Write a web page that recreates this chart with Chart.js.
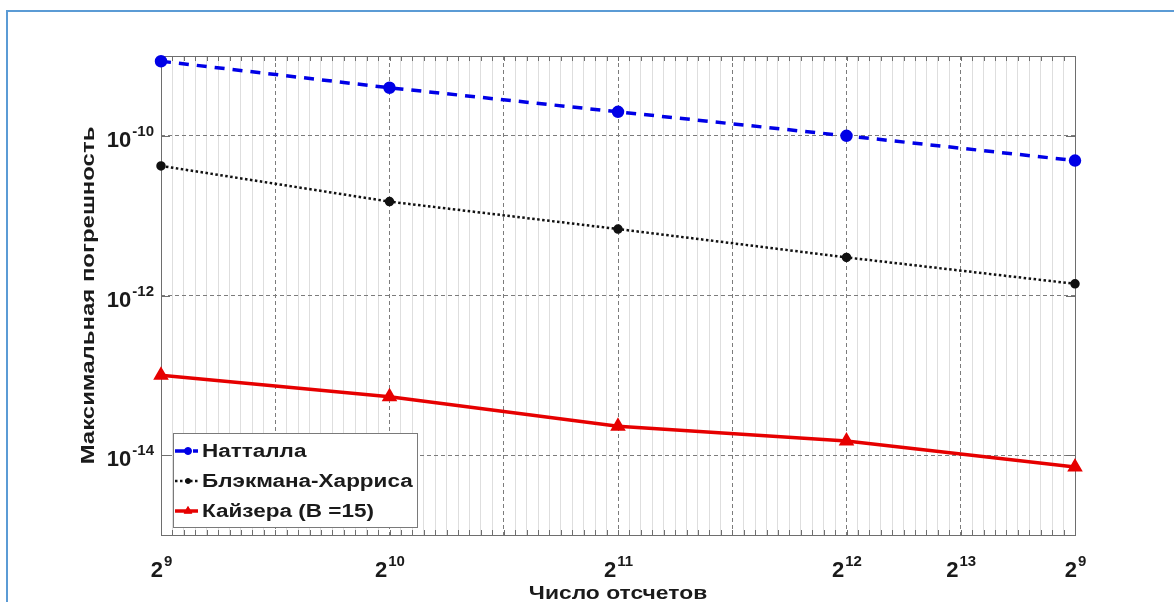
<!DOCTYPE html>
<html>
<head>
<meta charset="utf-8">
<script src="https://cdn.jsdelivr.net/npm/chart.js@4"></script>
<style>
  html, body { margin: 0; padding: 0; background: #fff; }
  #wrap { position: relative; width: 1174px; height: 602px; overflow: hidden; }
  #frame { position: absolute; left: 6px; top: 10px; width: 1300px; height: 700px;
           border-left: 2px solid #5b9bd5; border-top: 2px solid #5b9bd5; }
  #chart { position: absolute; left: 0; top: 0; }
</style>
</head>
<body>
<div id="wrap">
  <div id="frame"></div>
  <canvas id="chart" width="1174" height="602"></canvas>
</div>
<script>
// positions of the measurement points along the x axis
const xPositions = [0, 2, 4, 6, 8];

const nuttall = [8.6e-10, 4.0e-10, 2.0e-10, 1.0e-10, 4.9e-11];
const blackmanHarris = [4.2e-11, 1.5e-11, 6.8e-12, 3.0e-12, 1.4e-12];
const kaiser = [1.0e-13, 5.4e-14, 2.3e-14, 1.5e-14, 7.1e-15];

const seriesNames = ['Натталла', 'Блэкмана-Харриса', 'Кайзера (B =15)'];

const xTickValues = [0, 2, 4, 6, 7, 8];
const xTickLabels = ['2^9', '2^10', '2^11', '2^12', '2^13', '2^9'];
const yTickValues = [1e-10, 1e-12, 1e-14];
const yTickLabels = ['10^-10', '10^-12', '10^-14'];

const xTitle = 'Число отсчетов';
const yTitle = 'Максимальная погрешность';

const FONT = '"Liberation Sans", Arial, sans-serif';
const INK = '#1a1a1a';

function toPoints(ys) {
    return ys.map((y, i) => ({ x: xPositions[i], y: y }));
}

// draws "base^exp" with a raised, smaller exponent
function drawPower(ctx, label, x, y, align) {
    const parts = label.split('^');
    const base = parts[0], exp = parts[1] || '';
    ctx.font = 'bold 22px ' + FONT;
    const wb = ctx.measureText(base).width;
    ctx.font = 'bold 15px ' + FONT;
    const we = ctx.measureText(exp).width;
    let left = x;
    if (align === 'center') left = x - (wb + we) / 2;
    if (align === 'right') left = x - wb - we;
    ctx.textAlign = 'left';
    ctx.textBaseline = 'alphabetic';
    ctx.font = 'bold 22px ' + FONT;
    ctx.fillText(base, left, y);
    ctx.font = 'bold 15px ' + FONT;
    ctx.fillText(exp, left + wb + 1, y - 11);
}

// text widened along its own direction
function wideText(ctx, text, x, y, sx, align) {
    ctx.save();
    ctx.translate(x, y);
    ctx.scale(sx, 1);
    ctx.textAlign = align;
    ctx.fillText(text, 0, 0);
    ctx.restore();
}

const axesDecor = {
    id: 'axesDecor',
    beforeDatasetsDraw(chart) {
        const { ctx, chartArea: a, scales } = chart;
        ctx.save();
        ctx.strokeStyle = '#6e6e6e';
        ctx.lineWidth = 1;
        ctx.strokeRect(a.left + 0.5, a.top + 0.5, a.right - a.left, a.bottom - a.top);
        // inward tick marks on the box edges
        ctx.beginPath();
        scales.xMinor.ticks.concat(scales.x.ticks).forEach(t => {
            const px = Math.round(scales.x.getPixelForValue(t.value)) + 0.5;
            ctx.moveTo(px, a.bottom); ctx.lineTo(px, a.bottom - 5);
            ctx.moveTo(px, a.top); ctx.lineTo(px, a.top + 5);
        });
        scales.y.ticks.forEach(t => {
            const py = Math.round(scales.y.getPixelForValue(t.value)) + 0.5;
            ctx.moveTo(a.left, py); ctx.lineTo(a.left + 9, py);
            ctx.moveTo(a.right, py); ctx.lineTo(a.right - 9, py);
        });
        ctx.stroke();
        ctx.restore();
    },
    afterDraw(chart) {
        const { ctx, chartArea: a, scales } = chart;
        ctx.save();
        ctx.fillStyle = INK;
        xTickValues.forEach((v, i) => {
            const px = scales.x.getPixelForValue(v);
            drawPower(ctx, xTickLabels[i], px, a.bottom + 42, 'center');
        });
        yTickValues.forEach((v, i) => {
            const py = scales.y.getPixelForValue(v);
            drawPower(ctx, yTickLabels[i], a.left - 8, py + 11, 'right');
        });
        ctx.font = 'bold 18px ' + FONT;
        ctx.textBaseline = 'alphabetic';
        wideText(ctx, xTitle, (a.left + a.right) / 2, a.bottom + 64, 1.27, 'center');
        ctx.save();
        ctx.translate(a.left - 67, (a.top + a.bottom) / 2);
        ctx.rotate(-Math.PI / 2);
        wideText(ctx, yTitle, 0, 0, 1.33, 'center');
        ctx.restore();
        ctx.restore();
    },
    afterDatasetsDraw(chart) {
        // boxed legend in the lower left corner of the axes
        const { ctx, chartArea: a } = chart;
        const boxL = a.left + 12, boxW = 244, rowH = 30;
        const boxH = rowH * 3 + 4;
        const boxT = a.bottom - 8 - boxH;
        ctx.save();
        ctx.fillStyle = '#fff';
        ctx.fillRect(boxL, boxT, boxW, boxH);
        ctx.strokeStyle = '#7a7a7a';
        ctx.lineWidth = 1;
        ctx.strokeRect(boxL + 0.5, boxT + 0.5, boxW, boxH);
        chart.data.datasets.forEach((ds, i) => {
            const cy = boxT + 18 + i * rowH;
            ctx.save();
            ctx.strokeStyle = ds.borderColor;
            ctx.lineWidth = ds.borderWidth;
            ctx.setLineDash(ds.borderDash || []);
            ctx.beginPath();
            ctx.moveTo(boxL + 2, cy);
            ctx.lineTo(boxL + 25, cy);
            ctx.stroke();
            ctx.restore();
            ctx.fillStyle = ds.pointBackgroundColor;
            ctx.strokeStyle = ds.pointBorderColor;
            ctx.lineWidth = 1;
            Chart.helpers.drawPoint(ctx, {
                pointStyle: ds.pointStyle, radius: ds.pointRadius - 1, rotation: 0, borderWidth: 1
            }, boxL + 15, cy);
            ctx.fillStyle = INK;
            ctx.font = 'bold 18px ' + FONT;
            ctx.textBaseline = 'middle';
            wideText(ctx, ds.label, boxL + 29, cy + 1, 1.25, 'left');
        });
        ctx.restore();
    }
};

new Chart(document.getElementById('chart'), {
    type: 'line',
    data: {
        datasets: [{
            label: seriesNames[0],
            data: toPoints(nuttall),
            borderColor: '#0000e6',
            pointBackgroundColor: '#0000e6',
            pointBorderColor: '#0000e6',
            borderWidth: 3.5,
            borderDash: [10, 8],
            pointStyle: 'circle',
            pointRadius: 4.5,
            clip: false
        }, {
            label: seriesNames[1],
            data: toPoints(blackmanHarris),
            borderColor: '#111',
            pointBackgroundColor: '#111',
            pointBorderColor: '#111',
            borderWidth: 2.5,
            borderDash: [2.5, 2.5],
            pointStyle: 'circle',
            pointRadius: 3.5,
            clip: false
        }, {
            label: seriesNames[2],
            data: toPoints(kaiser),
            borderColor: '#e60000',
            pointBackgroundColor: '#e60000',
            pointBorderColor: '#e60000',
            borderWidth: 3.5,
            pointStyle: 'triangle',
            pointRadius: 5.5,
            clip: false
        }]
    },
    options: {
        responsive: false,
        animation: false,
        layout: { padding: { left: 161, top: 56, right: 99, bottom: 67 } },
        plugins: { legend: { display: false }, tooltip: { enabled: false } },
        scales: {
            xMinor: {
                type: 'linear', position: 'bottom', min: 0, max: 8, z: -1,
                afterBuildTicks: s => {
                    const t = [];
                    for (let k = 0; k <= 80; k++) if (k % 10) t.push({ value: k / 10 });
                    s.ticks = t;
                },
                ticks: { display: false },
                grid: { color: '#dedede', lineWidth: 1, drawTicks: false },
                border: { display: false }
            },
            x: {
                type: 'linear', position: 'bottom', min: 0, max: 8,
                afterBuildTicks: s => { s.ticks = [1, 2, 3, 4, 5, 6, 7].map(v => ({ value: v })); },
                ticks: { display: false },
                grid: { color: '#7c7c7c', lineWidth: 1, drawTicks: false },
                border: { display: false, dash: [4, 3] }
            },
            y: {
                type: 'logarithmic', min: 1e-15, max: 1e-9,
                afterBuildTicks: s => { s.ticks = yTickValues.map(v => ({ value: v })); },
                ticks: { display: false },
                grid: { color: '#7c7c7c', lineWidth: 1, drawTicks: false },
                border: { display: false, dash: [4, 3] }
            }
        }
    },
    plugins: [axesDecor]
});
</script>
</body>
</html>
